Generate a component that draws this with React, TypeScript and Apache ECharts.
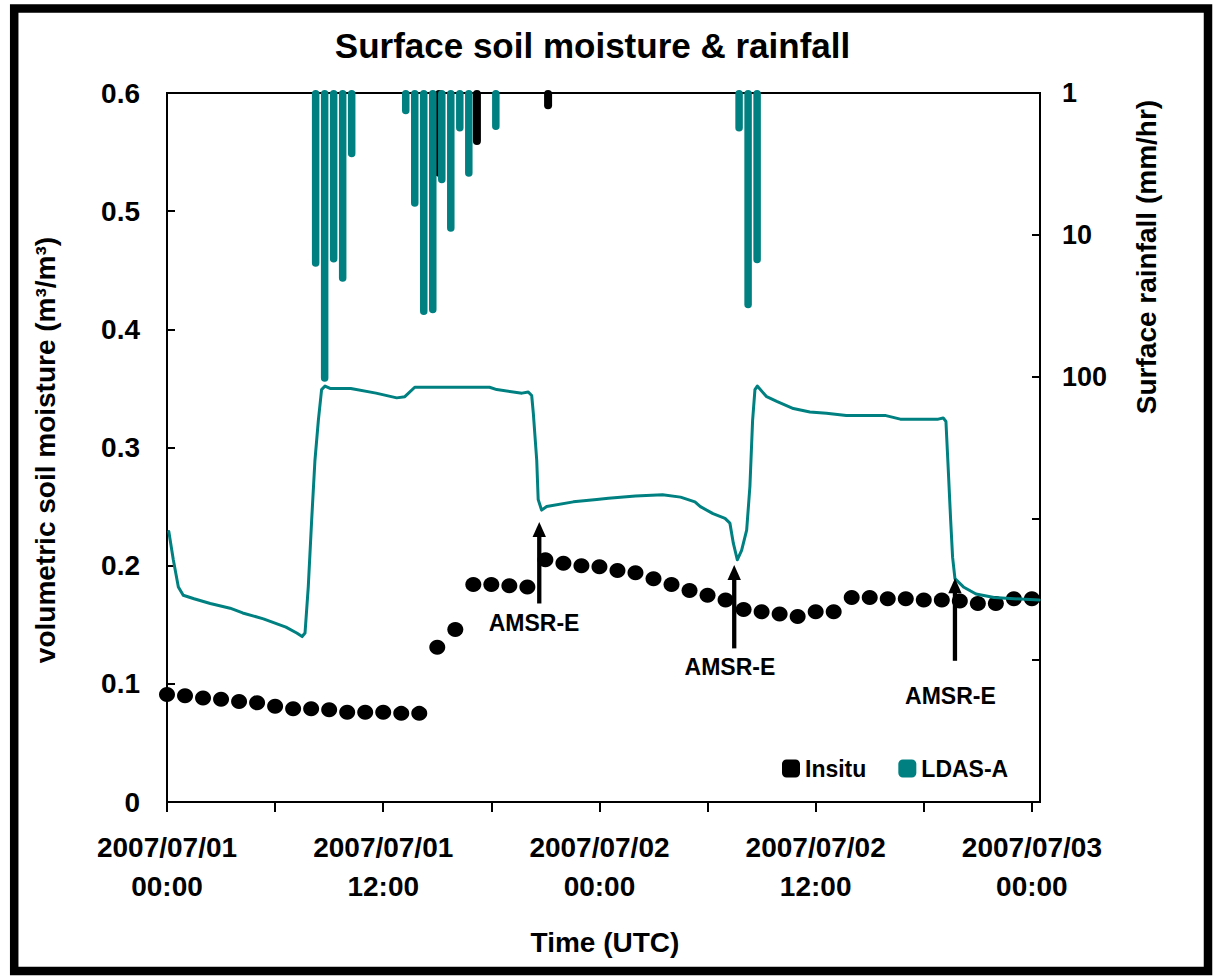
import React, { useEffect, useRef } from 'react';
import * as echarts from 'echarts';

const FONT = '"Liberation Sans", Arial, Helvetica, sans-serif';
const TEAL = '#008080';

// Hourly in-situ surface soil moisture (m3/m3), [hour since 2007/07/01 00:00, value]
const insituSoilMoisture: [number, number][] = [
  [0, 0.091], [1, 0.090], [2, 0.088], [3, 0.087], [4, 0.085], [5, 0.084], [6, 0.081],
  [7, 0.079], [8, 0.079], [9, 0.078], [10, 0.076], [11, 0.076], [12, 0.076], [13, 0.075],
  [14, 0.075], [15, 0.131], [16, 0.146], [17, 0.184], [18, 0.184], [19, 0.183], [20, 0.182],
  [21, 0.205], [22, 0.202], [23, 0.200], [24, 0.199], [25, 0.196], [26, 0.194], [27, 0.189],
  [28, 0.184], [29, 0.179], [30, 0.175], [31, 0.171], [32, 0.163], [33, 0.161], [34, 0.159],
  [35, 0.157], [36, 0.161], [37, 0.161], [38, 0.173], [39, 0.173], [40, 0.172], [41, 0.172],
  [42, 0.171], [43, 0.171], [44, 0.170], [45, 0.168], [46, 0.168], [47, 0.172], [48, 0.172],
];

// LDAS-A surface soil moisture trace
const ldasSoilMoisture: [number, number][] = [
  [0.1, 0.229], [0.35, 0.205], [0.63, 0.182], [0.9, 0.175], [1.5, 0.172], [2.4, 0.168],
  [3.5, 0.164], [4.2, 0.160], [5.35, 0.155], [6.6, 0.148], [7.2, 0.143], [7.5, 0.140],
  [7.66, 0.143], [7.84, 0.182], [8.03, 0.239], [8.21, 0.289], [8.4, 0.323], [8.58, 0.349],
  [8.77, 0.352], [9.05, 0.350], [10.2, 0.350], [11.6, 0.346], [12.75, 0.342], [13.2, 0.343],
  [13.75, 0.351], [17.9, 0.351], [18.3, 0.349], [19.7, 0.346], [20.05, 0.347], [20.24, 0.344],
  [20.33, 0.329], [20.52, 0.289], [20.6, 0.256], [20.79, 0.247], [21.07, 0.250], [22.55, 0.254],
  [23.85, 0.256], [24.5, 0.257], [26.0, 0.259], [27.5, 0.260], [28.5, 0.258], [29.3, 0.254],
  [29.6, 0.250], [30.3, 0.244], [30.97, 0.240], [31.24, 0.236], [31.43, 0.219], [31.65, 0.205],
  [31.89, 0.213], [32.17, 0.230], [32.35, 0.267], [32.5, 0.323], [32.63, 0.349], [32.76, 0.352],
  [33.28, 0.343], [33.84, 0.339], [34.76, 0.333], [35.68, 0.330], [36.6, 0.329], [37.7, 0.327],
  [39.9, 0.327], [40.7, 0.324], [42.8, 0.324], [43.08, 0.325], [43.23, 0.322], [43.36, 0.281],
  [43.49, 0.239], [43.6, 0.207], [43.73, 0.189], [44.2, 0.182], [44.9, 0.176], [45.9, 0.173],
  [47.0, 0.172], [48.4, 0.171],
];

// Surface rainfall (mm/hr)
const insituRainfall: [number, number][] = [[15.1, 3.9], [17.2, 2.33], [21.15, 1.3]];
const ldasRainfall: [number, number][] = [
  [8.25, 16.8], [8.75, 108.6], [9.25, 15.7], [9.75, 21.4], [10.25, 2.84], [13.25, 1.41],
  [13.75, 6.34], [14.25, 36.8], [14.75, 35.8], [15.25, 4.33], [15.75, 9.5], [16.25, 1.87],
  [16.75, 3.89], [18.25, 1.82], [31.75, 1.87], [32.25, 33], [32.75, 15.9],
];

// Axis ticks / labels
const xTickHours = [0, 6, 12, 18, 24, 30, 36, 42, 48];
const xLabelHours = [0, 12, 24, 36, 48];
const xLabelText = [
  '2007/07/01\n00:00', '2007/07/01\n12:00', '2007/07/02\n00:00', '2007/07/02\n12:00', '2007/07/03\n00:00',
];
const rightLabelValues = [1, 10, 100];

// AMSR-E overpass annotations
const amsrHours = [20.66, 31.48, 43.73];
const amsrTip = [0.237, 0.2005, 0.1893];
const amsrBase = [0.168, 0.13, 0.1195];
const amsrLabelPos: [number, number][] = [[20.37, 0.1514], [31.24, 0.1146], [43.48, 0.0901]];

const rainRender = (w: number) => (params: any, api: any) => {
  const x = api.value(0);
  const r = api.value(1);
  const p0 = api.coord([x, 1]);
  const p1 = api.coord([x, r]);
  return {
    type: 'rect',
    shape: { x: p0[0] - w / 2, y: p0[1] - 3, width: w, height: p1[1] - p0[1] + 3, r: w / 2 },
    style: { fill: api.visual('color') },
  };
};

export default function App() {
  const ref = useRef<HTMLDivElement>(null);
  useEffect(() => {
    if (!ref.current) return;
    const chart = echarts.init(ref.current, null, { renderer: 'svg' });
    const labelStyle = { fontFamily: FONT, fontWeight: 'bold' as const, fontSize: 28, color: '#000' };
    chart.setOption({
      animation: false,
      backgroundColor: '#fff',
      grid: { left: 167, top: 93, right: 173, bottom: 178, show: true, borderColor: '#000', borderWidth: 2 },
      legend: {
        left: 782, top: 757, padding: 0, itemWidth: 18, itemHeight: 18, itemGap: 32, icon: 'roundRect',
        data: ['Insitu', 'LDAS-A'],
        textStyle: { fontFamily: FONT, fontWeight: 'bold', fontSize: 23, color: '#000' },
      },
      xAxis: {
        type: 'value', min: 0, max: 48.45,
        axisLine: { lineStyle: { color: '#000', width: 2 } },
        axisTick: { show: true, inside: false, length: 10, lineStyle: { color: '#000', width: 2 }, customValues: xTickHours },
        axisLabel: {
          ...labelStyle, margin: 26, lineHeight: 39, customValues: xLabelHours,
          formatter: (v: number) => xLabelText[xLabelHours.indexOf(Math.round(v))] ?? '',
        },
        splitLine: { show: false },
      },
      yAxis: [
        {
          type: 'value', min: 0, max: 0.6, interval: 0.1, position: 'left',
          axisLine: { show: true, lineStyle: { color: '#000', width: 2 } },
          axisTick: { show: true, inside: true, length: 8, lineStyle: { color: '#000', width: 2 } },
          axisLabel: { ...labelStyle, margin: 27, formatter: (v: number) => (v === 0 ? '0' : v.toFixed(1)) },
          splitLine: { show: false },
        },
        {
          type: 'log', logBase: 10, min: 1, max: 100000, inverse: true, position: 'right',
          axisLine: { show: true, lineStyle: { color: '#000', width: 2 } },
          axisTick: { show: true, inside: true, length: 8, lineStyle: { color: '#000', width: 2 } },
          axisLabel: {
            ...labelStyle, fontSize: 27, margin: 22,
            formatter: (v: number) => (rightLabelValues.includes(Math.round(v)) ? String(Math.round(v)) : ''),
          },
          splitLine: { show: false },
        },
      ],
      series: [
        {
          name: 'Insitu', type: 'custom', xAxisIndex: 0, yAxisIndex: 1, data: insituRainfall,
          itemStyle: { color: '#000' }, renderItem: rainRender(8), encode: { x: 0, y: 1 }, z: 3,
        },
        {
          name: 'LDAS-A', type: 'custom', xAxisIndex: 0, yAxisIndex: 1, data: ldasRainfall,
          itemStyle: { color: TEAL }, renderItem: rainRender(7.5), encode: { x: 0, y: 1 }, z: 4,
        },
        {
          name: 'Insitu soil moisture', type: 'scatter', xAxisIndex: 0, yAxisIndex: 0, data: insituSoilMoisture,
          symbol: 'circle', symbolSize: [16, 15], itemStyle: { color: '#000', opacity: 1 }, z: 5,
        },
        {
          name: 'LDAS-A soil moisture', type: 'line', xAxisIndex: 0, yAxisIndex: 0, data: ldasSoilMoisture,
          showSymbol: false, symbol: 'none', lineStyle: { color: TEAL, width: 3, cap: 'round', join: 'round' }, z: 6,
        },
      ],
    });

    const px = (h: number, v: number) => chart.convertToPixel({ xAxisIndex: 0, yAxisIndex: 0 }, [h, v]) as number[];
    const elements: any[] = [
      {
        type: 'rect', shape: { x: 14.2, y: 8.4, width: 1193.8, height: 962.6 },
        style: { fill: 'none', stroke: '#000', lineWidth: 8.5 }, z: 200,
      },
      {
        type: 'text', x: 592.5, y: 45,
        style: { text: 'Surface soil moisture & rainfall', fontFamily: FONT, fontWeight: 'bold', fontSize: 35, fill: '#000', align: 'center', verticalAlign: 'middle' },
      },
      {
        type: 'text', x: 45, y: 450, rotation: Math.PI / 2,
        style: { text: 'volumetric soil moisture (m³/m³)', fontFamily: FONT, fontWeight: 'bold', fontSize: 28, fill: '#000', align: 'center', verticalAlign: 'middle' },
      },
      {
        type: 'text', x: 1146, y: 257, rotation: Math.PI / 2,
        style: { text: 'Surface rainfall (mm/hr)', fontFamily: FONT, fontWeight: 'bold', fontSize: 28, fill: '#000', align: 'center', verticalAlign: 'middle' },
      },
      {
        type: 'text', x: 605, y: 942,
        style: { text: 'Time (UTC)', fontFamily: FONT, fontWeight: 'bold', fontSize: 28, fill: '#000', align: 'center', verticalAlign: 'middle' },
      },
    ];
    amsrHours.forEach((h, i) => {
      const tip = px(h, amsrTip[i]);
      const base = px(h, amsrBase[i]);
      elements.push({
        type: 'line', shape: { x1: base[0], y1: base[1], x2: tip[0], y2: tip[1] + 12 },
        style: { stroke: '#000', lineWidth: 4.3 }, z: 100,
      });
      elements.push({
        type: 'polygon', shape: { points: [[tip[0], tip[1]], [tip[0] - 6.7, tip[1] + 15], [tip[0] + 6.7, tip[1] + 15]] },
        style: { fill: '#000' }, z: 100,
      });
      const lp = px(amsrLabelPos[i][0], amsrLabelPos[i][1]);
      elements.push({
        type: 'text', x: lp[0], y: lp[1], z: 100,
        style: { text: 'AMSR-E', fontFamily: FONT, fontWeight: 'bold', fontSize: 23, fill: '#000', align: 'center', verticalAlign: 'middle' },
      });
    });
    chart.setOption({ graphic: elements });
    return () => chart.dispose();
  }, []);
  return <div ref={ref} style={{ position: 'fixed', left: 0, top: 0, width: 1213, height: 980 }} />;
}
